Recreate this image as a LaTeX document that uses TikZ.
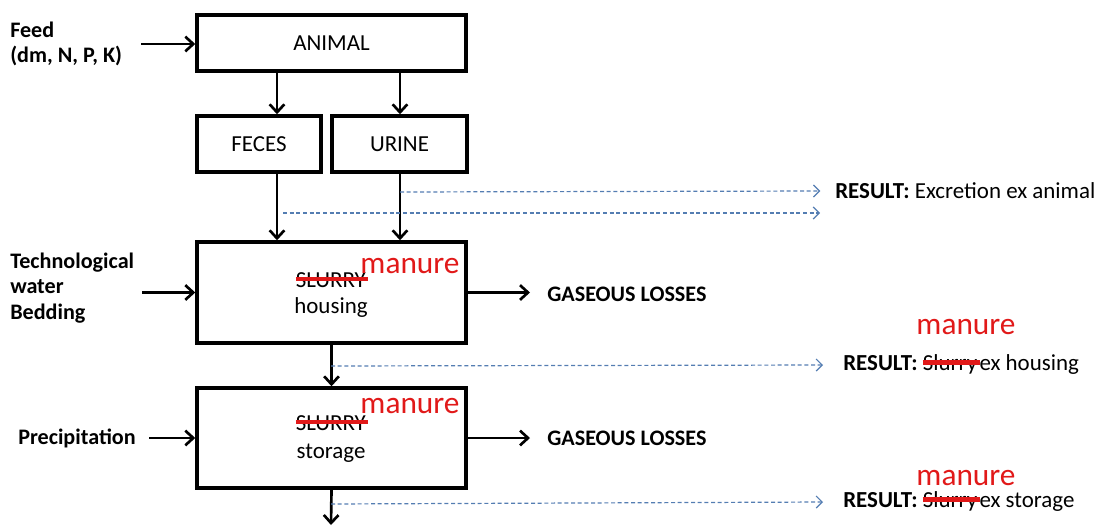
\documentclass[tikz,border=0pt]{standalone}
\usepackage{fontspec}
\setmainfont{Carlito}
\usetikzlibrary{positioning, arrows.meta, calc}
\definecolor{resblue}{RGB}{84,125,178}
\definecolor{fixred}{RGB}{225,25,25}
% red strike through a word
\newcommand{\crossout}[1]{\sbox0{#1}\rlap{#1}\textcolor{fixred}{\rule[0.26em]{\dimexpr\wd0+0.1em\relax}{0.2em}}}
\tikzset{
    >={Straight Barb[length=6pt, width=11pt]}, % open heads as in the sketch
    box/.style={draw, line width=2.6pt, minimum width=201.75pt, minimum height=42pt, inner sep=0pt},
    flow/.style={->, line width=2pt},
    result/.style={-{Straight Barb[length=4.5pt, width=9pt]}, resblue, line width=0.9pt, dash pattern=on 3pt off 2pt},
    lbl/.style={font=\fontsize{16.6}{19}\selectfont\bfseries, align=left, anchor=west, inner sep=0pt},
    txt/.style={font=\fontsize{17.2}{19}\selectfont, inner sep=0pt},
    fix/.style={text=fixred, font=\fontsize{23.5}{26}\selectfont, inner sep=0pt}
}

\begin{document}
\begin{tikzpicture}[x=0.75pt, y=-0.75pt]
    \useasboundingbox (0,0) rectangle (1104,529);

    % boxes
    \node[box, txt] (animal) at (331.5,43) {ANIMAL};
    \node[box, txt, minimum width=93pt] (feces) at (259,144) {FECES};
    \node[box, txt, minimum width=101pt] (urine) at (399.5,144) {URINE};
    \node[box, minimum height=75.75pt] (housing) at (331.5,292.5) {};
    \node[box, minimum height=75pt] (storage) at (331.5,438) {};

    % texts inside the boxes
    \node[txt] (slurryH) at (332,280) {\crossout{SLURRY}};
    \node[fix] (manureH) at (410,266) {manure};
    \node[txt] (housingT) at (331,308) {housing};
    \node[txt] (slurryS) at (332,423) {\crossout{SLURRY}};
    \node[fix] (manureS) at (410,406) {manure};
    \node[txt] (storageT) at (331,453) {storage};

    % inputs
    \node[lbl] (feed) at (10,44) {Feed\\(dm, N, P, K)};
    \node[lbl] (tech) at (10,288) {Technological\\water\\Bedding};
    \node[lbl] (prec) at (18,438) {Precipitation};

    % losses
    \node[lbl] (gas1) at (547,294) {GASEOUS LOSSES};
    \node[lbl] (gas2) at (547,438) {GASEOUS LOSSES};

    % results
    \node[txt, anchor=west] (res1) at (835,191) {\textbf{RESULT:} Excretion ex animal};
    \node[txt, anchor=west] (res2) at (843,365) {\textbf{RESULT:} \crossout{Slurry}ex housing};
    \node[fix] (manure2) at (966,327) {manure};
    \node[txt, anchor=west] (res3) at (843,502) {\textbf{RESULT:} \crossout{Slurry}ex storage};
    \node[fix] (manure3) at (966,478) {manure};

    \coordinate (colF) at (277,0);
    \coordinate (colU) at (400,0);
    \coordinate (ex1) at (400,192);
    \coordinate (ex2) at (283,213);
    \coordinate (ex2end) at (820,213);
    \coordinate (ex3) at (331,366);
    \coordinate (ex4) at (331,504);
    \coordinate (out) at (331,525);

    % main flow
    \draw[flow] ([xshift=14pt]feed.east) -- (feed.east -| animal.west);
    \draw[flow] (animal.south -| colF) -- (feces.north -| colF);
    \draw[flow] (animal.south -| colU) -- (urine.north -| colU);
    \draw[flow] (feces.south -| colF) -- (housing.north -| colF);
    \draw[flow] (urine.south -| colU) -- (housing.north -| colU);
    \draw[flow] ([xshift=6pt]tech.east |- housing.west) -- (housing.west);
    \draw[flow] (housing.east) -- ([xshift=-12.75pt]gas1.west |- housing.east);
    \draw[flow] (housing.south) -- (storage.north);
    \draw[flow] ([xshift=10pt]prec.east) -- (storage.west);
    \draw[flow] (storage.east) -- ([xshift=-12.75pt]gas2.west |- storage.east);
    \draw[flow] (storage.south) -- (out);

    % dashed result arrows
    \draw[result] (ex1) -- ([xshift=-11pt]res1.west);
    \draw[result] (ex2) -- (ex2end);
    \draw[result] (ex3) -- ([xshift=-15pt]res2.west);
    \draw[result] (ex4) -- ([xshift=-15pt]res3.west);
\end{tikzpicture}
\end{document}
